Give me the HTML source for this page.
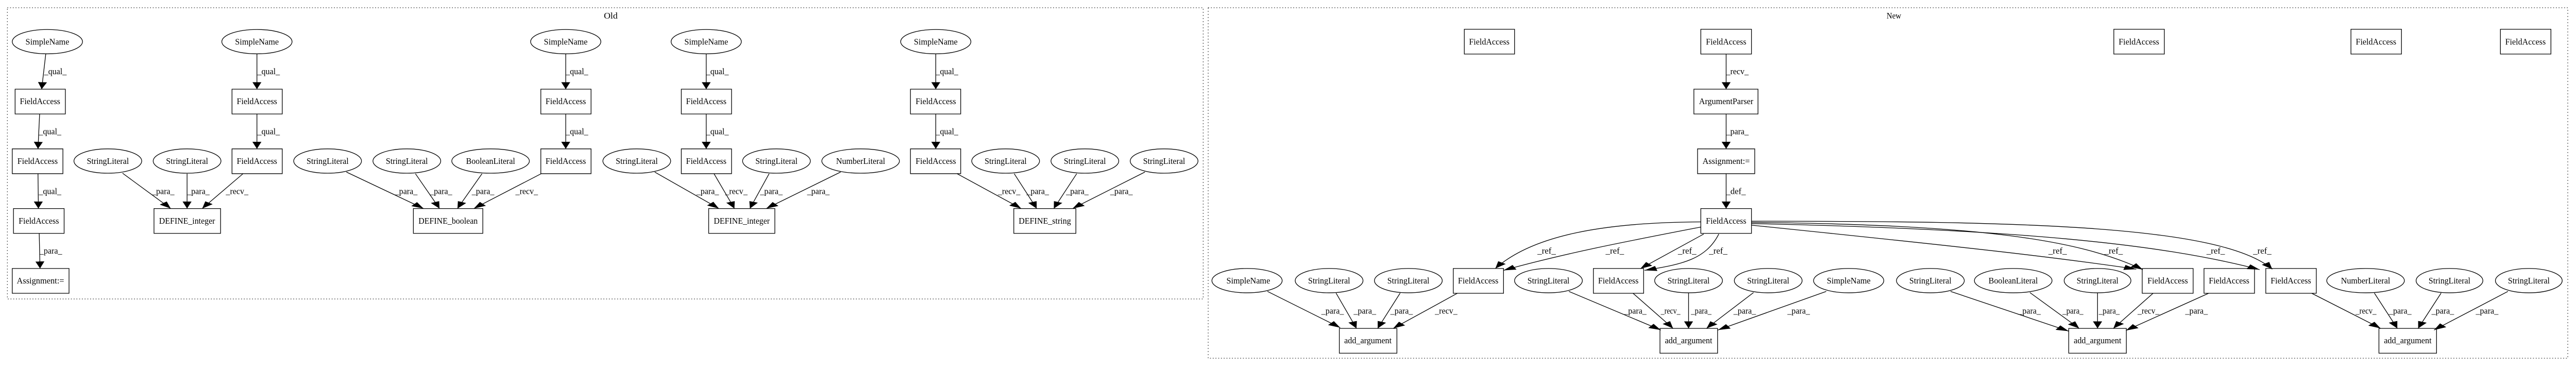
<!DOCTYPE html>
<html><head><meta charset="utf-8"><style>
html,body{margin:0;padding:0;background:#fff;width:100%;height:100%;overflow:hidden;}
svg{display:block;width:100vw;height:100vh;}
text{font-family:"Liberation Serif",serif;font-size:38px;fill:#000;}
.n{text-anchor:middle;}
.s{fill:none;stroke:#000;stroke-width:1.3;}
.e{fill:none;stroke:#000;stroke-width:1.3;marker-end:url(#ah);}
</style></head><body>
<svg viewBox="0 0 5631 712" preserveAspectRatio="none" xmlns="http://www.w3.org/2000/svg">
<defs>
<marker id="ah" markerUnits="userSpaceOnUse" markerWidth="32" markerHeight="22" refX="30" refY="11" orient="auto">
<path d="M0,0 L30,11 L0,22 z" fill="#000"/>
</marker>
</defs>
<rect x="0" y="0" width="5631" height="712" fill="#fff"/>
<rect x="16" y="15" width="2614" height="565" fill="none" stroke="#000" stroke-width="1" stroke-dasharray="2,4"/>
<rect x="2641" y="15" width="2972" height="680" fill="none" stroke="#000" stroke-width="1" stroke-dasharray="2,4"/>
<text x="1335" y="36" class="n" style="font-size:17px" textLength="30" lengthAdjust="spacingAndGlyphs">Old</text>
<text x="4140" y="36" class="n" style="font-size:17px" textLength="32" lengthAdjust="spacingAndGlyphs">New</text>

<!-- Group 1 -->
<g transform="translate(0,0) scale(0.8929,0.4541)">
<ellipse class="s" vector-effect="non-scaling-stroke" cx="116" cy="178" rx="86" ry="52"/>
<ellipse class="s" vector-effect="non-scaling-stroke" cx="629" cy="178" rx="86" ry="52"/>
<ellipse class="s" vector-effect="non-scaling-stroke" cx="1385" cy="178" rx="86" ry="52"/>
<rect class="s" vector-effect="non-scaling-stroke" x="37" y="381" width="123" height="106"/>
<rect class="s" vector-effect="non-scaling-stroke" x="30" y="636" width="124" height="106"/>
<rect class="s" vector-effect="non-scaling-stroke" x="33" y="891" width="124" height="106"/>
<rect class="s" vector-effect="non-scaling-stroke" x="30" y="1147" width="139" height="106"/>
<rect class="s" vector-effect="non-scaling-stroke" x="568" y="381" width="123" height="106"/>
<rect class="s" vector-effect="non-scaling-stroke" x="568" y="636" width="123" height="106"/>
<rect class="s" vector-effect="non-scaling-stroke" x="377" y="891" width="163" height="106"/>
<rect class="s" vector-effect="non-scaling-stroke" x="1324" y="381" width="123" height="106"/>
<rect class="s" vector-effect="non-scaling-stroke" x="1324" y="636" width="123" height="106"/>
<rect class="s" vector-effect="non-scaling-stroke" x="1012" y="891" width="170" height="106"/>
<ellipse class="s" vector-effect="non-scaling-stroke" cx="264" cy="688" rx="83" ry="52"/>
<ellipse class="s" vector-effect="non-scaling-stroke" cx="458" cy="688" rx="83" ry="52"/>
<ellipse class="s" vector-effect="non-scaling-stroke" cx="802" cy="688" rx="83" ry="52"/>
<ellipse class="s" vector-effect="non-scaling-stroke" cx="996" cy="688" rx="83" ry="52"/>
<ellipse class="s" vector-effect="non-scaling-stroke" cx="1201" cy="688" rx="95" ry="52"/>
<path class="e" vector-effect="non-scaling-stroke" d="M112,231 L102,381"/>
<path class="e" vector-effect="non-scaling-stroke" d="M97,487 L93,636"/>
<path class="e" vector-effect="non-scaling-stroke" d="M93,742 L94,891"/>
<path class="e" vector-effect="non-scaling-stroke" d="M96,997 L98,1147"/>
<path class="e" vector-effect="non-scaling-stroke" d="M629,231 L629,381"/>
<path class="e" vector-effect="non-scaling-stroke" d="M629,487 L629,636"/>
<path class="e" vector-effect="non-scaling-stroke" d="M1385,231 L1385,381"/>
<path class="e" vector-effect="non-scaling-stroke" d="M1385,487 L1385,636"/>
<path class="e" vector-effect="non-scaling-stroke" d="M300,740 L418,891"/>
<path class="e" vector-effect="non-scaling-stroke" d="M458,742 L458,891"/>
<path class="e" vector-effect="non-scaling-stroke" d="M595,742 L495,891"/>
<path class="e" vector-effect="non-scaling-stroke" d="M848,735 L1037,891"/>
<path class="e" vector-effect="non-scaling-stroke" d="M1017,742 L1076,891"/>
<path class="e" vector-effect="non-scaling-stroke" d="M1180,742 L1120,891"/>
<path class="e" vector-effect="non-scaling-stroke" d="M1325,742 L1160,891"/>
<text class="n" x="116" y="190" textLength="107" lengthAdjust="spacingAndGlyphs">SimpleName</text>
<text class="n" x="629" y="190" textLength="107" lengthAdjust="spacingAndGlyphs">SimpleName</text>
<text class="n" x="1385" y="190" textLength="107" lengthAdjust="spacingAndGlyphs">SimpleName</text>
<text class="n" x="98" y="445" textLength="99" lengthAdjust="spacingAndGlyphs">FieldAccess</text>
<text class="n" x="92" y="700" textLength="99" lengthAdjust="spacingAndGlyphs">FieldAccess</text>
<text class="n" x="95" y="956" textLength="99" lengthAdjust="spacingAndGlyphs">FieldAccess</text>
<text class="n" x="99" y="1211" textLength="116" lengthAdjust="spacingAndGlyphs">Assignment:=</text>
<text class="n" x="629" y="445" textLength="99" lengthAdjust="spacingAndGlyphs">FieldAccess</text>
<text class="n" x="629" y="700" textLength="99" lengthAdjust="spacingAndGlyphs">FieldAccess</text>
<text class="n" x="458" y="956" textLength="137" lengthAdjust="spacingAndGlyphs">DEFINE_integer</text>
<text class="n" x="1385" y="445" textLength="99" lengthAdjust="spacingAndGlyphs">FieldAccess</text>
<text class="n" x="1385" y="700" textLength="99" lengthAdjust="spacingAndGlyphs">FieldAccess</text>
<text class="n" x="1097" y="956" textLength="145" lengthAdjust="spacingAndGlyphs">DEFINE_boolean</text>
<text class="n" x="264" y="700" textLength="103" lengthAdjust="spacingAndGlyphs">StringLiteral</text>
<text class="n" x="458" y="700" textLength="103" lengthAdjust="spacingAndGlyphs">StringLiteral</text>
<text class="n" x="802" y="700" textLength="103" lengthAdjust="spacingAndGlyphs">StringLiteral</text>
<text class="n" x="996" y="700" textLength="103" lengthAdjust="spacingAndGlyphs">StringLiteral</text>
<text class="n" x="1201" y="700" textLength="120" lengthAdjust="spacingAndGlyphs">BooleanLiteral</text>
<text x="108" y="317" textLength="55" lengthAdjust="spacingAndGlyphs">_qual_</text>
<text x="95" y="574" textLength="55" lengthAdjust="spacingAndGlyphs">_qual_</text>
<text x="95" y="829" textLength="55" lengthAdjust="spacingAndGlyphs">_qual_</text>
<text x="97" y="1084" textLength="55" lengthAdjust="spacingAndGlyphs">_para_</text>
<text x="630" y="317" textLength="55" lengthAdjust="spacingAndGlyphs">_qual_</text>
<text x="630" y="574" textLength="55" lengthAdjust="spacingAndGlyphs">_qual_</text>
<text x="1385" y="317" textLength="55" lengthAdjust="spacingAndGlyphs">_qual_</text>
<text x="1385" y="574" textLength="55" lengthAdjust="spacingAndGlyphs">_qual_</text>
<text x="372" y="829" textLength="55" lengthAdjust="spacingAndGlyphs">_para_</text>
<text x="458" y="829" textLength="55" lengthAdjust="spacingAndGlyphs">_para_</text>
<text x="553" y="829" textLength="55" lengthAdjust="spacingAndGlyphs">_recv_</text>
<text x="967" y="829" textLength="55" lengthAdjust="spacingAndGlyphs">_para_</text>
<text x="1052" y="829" textLength="55" lengthAdjust="spacingAndGlyphs">_para_</text>
<text x="1155" y="829" textLength="55" lengthAdjust="spacingAndGlyphs">_para_</text>
<text x="1262" y="829" textLength="55" lengthAdjust="spacingAndGlyphs">_recv_</text>
</g>

<!-- Group 2 -->
<g transform="translate(1400,0) scale(0.8929,0.4541)">
<ellipse class="s" vector-effect="non-scaling-stroke" cx="-9" cy="688" rx="83" ry="52"/>
<ellipse class="s" vector-effect="non-scaling-stroke" cx="161" cy="178" rx="86" ry="52"/>
<ellipse class="s" vector-effect="non-scaling-stroke" cx="723" cy="178" rx="86" ry="52"/>
<rect class="s" vector-effect="non-scaling-stroke" x="100" y="381" width="123" height="106"/>
<rect class="s" vector-effect="non-scaling-stroke" x="100" y="636" width="123" height="106"/>
<rect class="s" vector-effect="non-scaling-stroke" x="661" y="381" width="123" height="106"/>
<rect class="s" vector-effect="non-scaling-stroke" x="661" y="636" width="123" height="106"/>
<ellipse class="s" vector-effect="non-scaling-stroke" cx="333" cy="688" rx="83" ry="52"/>
<ellipse class="s" vector-effect="non-scaling-stroke" cx="539" cy="688" rx="95" ry="52"/>
<ellipse class="s" vector-effect="non-scaling-stroke" cx="894" cy="688" rx="83" ry="52"/>
<ellipse class="s" vector-effect="non-scaling-stroke" cx="1088" cy="688" rx="83" ry="52"/>
<ellipse class="s" vector-effect="non-scaling-stroke" cx="1282" cy="688" rx="83" ry="52"/>
<rect class="s" vector-effect="non-scaling-stroke" x="167" y="891" width="162" height="106"/>
<rect class="s" vector-effect="non-scaling-stroke" x="914" y="891" width="152" height="106"/>
<ellipse class="s" vector-effect="non-scaling-stroke" cx="1485" cy="1199" rx="86" ry="52"/>
<path class="e" vector-effect="non-scaling-stroke" d="M161,231 L161,381"/>
<path class="e" vector-effect="non-scaling-stroke" d="M161,487 L161,636"/>
<path class="e" vector-effect="non-scaling-stroke" d="M723,231 L723,381"/>
<path class="e" vector-effect="non-scaling-stroke" d="M723,487 L723,636"/>
<path class="e" vector-effect="non-scaling-stroke" d="M35,735 L192,891"/>
<path class="e" vector-effect="non-scaling-stroke" d="M180,742 L230,891"/>
<path class="e" vector-effect="non-scaling-stroke" d="M315,742 L268,891"/>
<path class="e" vector-effect="non-scaling-stroke" d="M490,735 L308,891"/>
<path class="e" vector-effect="non-scaling-stroke" d="M775,742 L932,891"/>
<path class="e" vector-effect="non-scaling-stroke" d="M915,742 L970,891"/>
<path class="e" vector-effect="non-scaling-stroke" d="M1068,742 L1012,891"/>
<path class="e" vector-effect="non-scaling-stroke" d="M1235,735 L1058,891"/>
<path class="e" vector-effect="non-scaling-stroke" d="M1535,1245 L1713,1400"/>
<text class="n" x="-9" y="700" textLength="103" lengthAdjust="spacingAndGlyphs">StringLiteral</text>
<text class="n" x="161" y="190" textLength="107" lengthAdjust="spacingAndGlyphs">SimpleName</text>
<text class="n" x="723" y="190" textLength="107" lengthAdjust="spacingAndGlyphs">SimpleName</text>
<text class="n" x="161" y="445" textLength="99" lengthAdjust="spacingAndGlyphs">FieldAccess</text>
<text class="n" x="161" y="700" textLength="99" lengthAdjust="spacingAndGlyphs">FieldAccess</text>
<text class="n" x="723" y="445" textLength="99" lengthAdjust="spacingAndGlyphs">FieldAccess</text>
<text class="n" x="723" y="700" textLength="99" lengthAdjust="spacingAndGlyphs">FieldAccess</text>
<text class="n" x="333" y="700" textLength="103" lengthAdjust="spacingAndGlyphs">StringLiteral</text>
<text class="n" x="539" y="700" textLength="120" lengthAdjust="spacingAndGlyphs">NumberLiteral</text>
<text class="n" x="894" y="700" textLength="103" lengthAdjust="spacingAndGlyphs">StringLiteral</text>
<text class="n" x="1088" y="700" textLength="103" lengthAdjust="spacingAndGlyphs">StringLiteral</text>
<text class="n" x="1282" y="700" textLength="103" lengthAdjust="spacingAndGlyphs">StringLiteral</text>
<text class="n" x="248" y="956" textLength="137" lengthAdjust="spacingAndGlyphs">DEFINE_integer</text>
<text class="n" x="990" y="956" textLength="128" lengthAdjust="spacingAndGlyphs">DEFINE_string</text>
<text class="n" x="1488" y="1211" textLength="107" lengthAdjust="spacingAndGlyphs">SimpleName</text>
<text x="161" y="317" textLength="55" lengthAdjust="spacingAndGlyphs">_qual_</text>
<text x="161" y="574" textLength="55" lengthAdjust="spacingAndGlyphs">_qual_</text>
<text x="723" y="317" textLength="55" lengthAdjust="spacingAndGlyphs">_qual_</text>
<text x="723" y="574" textLength="55" lengthAdjust="spacingAndGlyphs">_qual_</text>
<text x="137" y="829" textLength="55" lengthAdjust="spacingAndGlyphs">_para_</text>
<text x="207" y="829" textLength="55" lengthAdjust="spacingAndGlyphs">_recv_</text>
<text x="293" y="829" textLength="55" lengthAdjust="spacingAndGlyphs">_para_</text>
<text x="408" y="829" textLength="55" lengthAdjust="spacingAndGlyphs">_para_</text>
<text x="875" y="829" textLength="55" lengthAdjust="spacingAndGlyphs">_recv_</text>
<text x="945" y="829" textLength="55" lengthAdjust="spacingAndGlyphs">_para_</text>
<text x="1042" y="829" textLength="55" lengthAdjust="spacingAndGlyphs">_para_</text>
<text x="1150" y="829" textLength="55" lengthAdjust="spacingAndGlyphs">_para_</text>
<text x="1667" y="1340" textLength="55" lengthAdjust="spacingAndGlyphs">_para_</text>
</g>

<!-- Group 3 -->
<g transform="translate(2800,0) scale(0.8929,0.4541)">
<rect class="s" vector-effect="non-scaling-stroke" x="449" y="125" width="123" height="106"/>
<rect class="s" vector-effect="non-scaling-stroke" x="1028" y="125" width="124" height="106"/>
<rect class="s" vector-effect="non-scaling-stroke" x="1011" y="381" width="157" height="106"/>
<rect class="s" vector-effect="non-scaling-stroke" x="1020" y="636" width="140" height="106"/>
<rect class="s" vector-effect="non-scaling-stroke" x="1028" y="891" width="124" height="106"/>
<ellipse class="s" vector-effect="non-scaling-stroke" cx="118" cy="1199" rx="83" ry="52"/>
<ellipse class="s" vector-effect="non-scaling-stroke" cx="312" cy="1199" rx="83" ry="52"/>
<rect class="s" vector-effect="non-scaling-stroke" x="422" y="1147" width="123" height="106"/>
<ellipse class="s" vector-effect="non-scaling-stroke" cx="655" cy="1199" rx="83" ry="52"/>
<rect class="s" vector-effect="non-scaling-stroke" x="765" y="1147" width="123" height="106"/>
<ellipse class="s" vector-effect="non-scaling-stroke" cx="998" cy="1199" rx="83" ry="52"/>
<ellipse class="s" vector-effect="non-scaling-stroke" cx="1193" cy="1199" rx="83" ry="52"/>
<ellipse class="s" vector-effect="non-scaling-stroke" cx="1390" cy="1199" rx="86" ry="52"/>
<ellipse class="s" vector-effect="non-scaling-stroke" cx="1590" cy="1199" rx="83" ry="52"/>
<rect class="s" vector-effect="non-scaling-stroke" x="143" y="1403" width="141" height="106"/>
<rect class="s" vector-effect="non-scaling-stroke" x="928" y="1403" width="141" height="106"/>
<path class="e" vector-effect="non-scaling-stroke" d="M1090,231 L1090,381"/>
<path class="e" vector-effect="non-scaling-stroke" d="M1090,487 L1090,636"/>
<path class="e" vector-effect="non-scaling-stroke" d="M1090,742 L1090,891"/>
<path class="e" vector-effect="non-scaling-stroke" d="M1028,948 C800,950 620,1000 525,1147"/>
<path class="e" vector-effect="non-scaling-stroke" d="M1028,970 C850,1030 700,1080 545,1155"/>
<path class="e" vector-effect="non-scaling-stroke" d="M1035,1000 L880,1148"/>
<path class="e" vector-effect="non-scaling-stroke" d="M1072,1000 C1040,1110 980,1130 890,1155"/>
<path class="e" vector-effect="non-scaling-stroke" d="M1152,962 C1700,1060 1900,1100 2094,1150"/>
<path class="e" vector-effect="non-scaling-stroke" d="M1152,950 C1700,960 1950,1020 2110,1152"/>
<path class="e" vector-effect="non-scaling-stroke" d="M1152,955 C1800,980 2150,1040 2396,1152"/>
<path class="e" vector-effect="non-scaling-stroke" d="M1152,945 C1800,945 2300,960 2427,1150"/>
<path class="e" vector-effect="non-scaling-stroke" d="M135,1252 L185,1403"/>
<path class="e" vector-effect="non-scaling-stroke" d="M292,1252 L237,1403"/>
<path class="e" vector-effect="non-scaling-stroke" d="M432,1253 L275,1403"/>
<path class="e" vector-effect="non-scaling-stroke" d="M705,1245 L930,1410"/>
<path class="e" vector-effect="non-scaling-stroke" d="M862,1253 L960,1403"/>
<path class="e" vector-effect="non-scaling-stroke" d="M998,1252 L998,1403"/>
<path class="e" vector-effect="non-scaling-stroke" d="M1157,1250 L1042,1403"/>
<path class="e" vector-effect="non-scaling-stroke" d="M1335,1245 L1070,1410"/>
<text class="n" x="510" y="190" textLength="99" lengthAdjust="spacingAndGlyphs">FieldAccess</text>
<text class="n" x="1090" y="190" textLength="99" lengthAdjust="spacingAndGlyphs">FieldAccess</text>
<text class="n" x="1090" y="445" textLength="133" lengthAdjust="spacingAndGlyphs">ArgumentParser</text>
<text class="n" x="1090" y="700" textLength="116" lengthAdjust="spacingAndGlyphs">Assignment:=</text>
<text class="n" x="1090" y="956" textLength="99" lengthAdjust="spacingAndGlyphs">FieldAccess</text>
<text class="n" x="118" y="1211" textLength="103" lengthAdjust="spacingAndGlyphs">StringLiteral</text>
<text class="n" x="312" y="1211" textLength="103" lengthAdjust="spacingAndGlyphs">StringLiteral</text>
<text class="n" x="483" y="1211" textLength="99" lengthAdjust="spacingAndGlyphs">FieldAccess</text>
<text class="n" x="655" y="1211" textLength="103" lengthAdjust="spacingAndGlyphs">StringLiteral</text>
<text class="n" x="826" y="1211" textLength="99" lengthAdjust="spacingAndGlyphs">FieldAccess</text>
<text class="n" x="998" y="1211" textLength="103" lengthAdjust="spacingAndGlyphs">StringLiteral</text>
<text class="n" x="1193" y="1211" textLength="103" lengthAdjust="spacingAndGlyphs">StringLiteral</text>
<text class="n" x="1390" y="1211" textLength="107" lengthAdjust="spacingAndGlyphs">SimpleName</text>
<text class="n" x="1590" y="1211" textLength="103" lengthAdjust="spacingAndGlyphs">StringLiteral</text>
<text class="n" x="213" y="1467" textLength="116" lengthAdjust="spacingAndGlyphs">add_argument</text>
<text class="n" x="998" y="1467" textLength="116" lengthAdjust="spacingAndGlyphs">add_argument</text>
<text x="1090" y="317" textLength="55" lengthAdjust="spacingAndGlyphs">_recv_</text>
<text x="1090" y="574" textLength="55" lengthAdjust="spacingAndGlyphs">_para_</text>
<text x="1090" y="829" textLength="48" lengthAdjust="spacingAndGlyphs">_def_</text>
<text x="628" y="1084" textLength="45" lengthAdjust="spacingAndGlyphs">_ref_</text>
<text x="795" y="1084" textLength="45" lengthAdjust="spacingAndGlyphs">_ref_</text>
<text x="972" y="1084" textLength="45" lengthAdjust="spacingAndGlyphs">_ref_</text>
<text x="1048" y="1084" textLength="45" lengthAdjust="spacingAndGlyphs">_ref_</text>
<text x="1879" y="1084" textLength="45" lengthAdjust="spacingAndGlyphs">_ref_</text>
<text x="2016" y="1084" textLength="45" lengthAdjust="spacingAndGlyphs">_ref_</text>
<text x="2266" y="1084" textLength="45" lengthAdjust="spacingAndGlyphs">_ref_</text>
<text x="2380" y="1084" textLength="45" lengthAdjust="spacingAndGlyphs">_ref_</text>
<text x="178" y="1340" textLength="55" lengthAdjust="spacingAndGlyphs">_para_</text>
<text x="268" y="1340" textLength="55" lengthAdjust="spacingAndGlyphs">_para_</text>
<text x="377" y="1340" textLength="55" lengthAdjust="spacingAndGlyphs">_recv_</text>
<text x="840" y="1340" textLength="55" lengthAdjust="spacingAndGlyphs">_para_</text>
<text x="930" y="1340" textLength="48" lengthAdjust="spacingAndGlyphs">_recv_</text>
<text x="1004" y="1340" textLength="50" lengthAdjust="spacingAndGlyphs">_para_</text>
<text x="1108" y="1340" textLength="55" lengthAdjust="spacingAndGlyphs">_para_</text>
<text x="1240" y="1340" textLength="55" lengthAdjust="spacingAndGlyphs">_para_</text>
</g>

<!-- Group 4 -->
<g transform="translate(4200,0) scale(0.9126,0.4541)">
<rect class="s" vector-effect="non-scaling-stroke" x="461" y="125" width="121" height="106"/>
<rect class="s" vector-effect="non-scaling-stroke" x="1029" y="125" width="121" height="106"/>
<rect class="s" vector-effect="non-scaling-stroke" x="1387" y="125" width="121" height="106"/>
<ellipse class="s" vector-effect="non-scaling-stroke" cx="220" cy="1199" rx="93" ry="52"/>
<ellipse class="s" vector-effect="non-scaling-stroke" cx="422" cy="1199" rx="80" ry="52"/>
<rect class="s" vector-effect="non-scaling-stroke" x="529" y="1147" width="122" height="106"/>
<rect class="s" vector-effect="non-scaling-stroke" x="677" y="1147" width="121" height="106"/>
<rect class="s" vector-effect="non-scaling-stroke" x="825" y="1147" width="121" height="106"/>
<ellipse class="s" vector-effect="non-scaling-stroke" cx="1064" cy="1199" rx="93" ry="52"/>
<ellipse class="s" vector-effect="non-scaling-stroke" cx="1265" cy="1199" rx="80" ry="52"/>
<ellipse class="s" vector-effect="non-scaling-stroke" cx="1455" cy="1199" rx="80" ry="52"/>
<rect class="s" vector-effect="non-scaling-stroke" x="353" y="1403" width="138" height="106"/>
<rect class="s" vector-effect="non-scaling-stroke" x="1096" y="1403" width="138" height="106"/>
<path class="e" vector-effect="non-scaling-stroke" d="M70,1245 L353,1415"/>
<path class="e" vector-effect="non-scaling-stroke" d="M260,1250 L378,1403"/>
<path class="e" vector-effect="non-scaling-stroke" d="M422,1252 L422,1403"/>
<path class="e" vector-effect="non-scaling-stroke" d="M555,1253 L460,1403"/>
<path class="e" vector-effect="non-scaling-stroke" d="M688,1253 L490,1412"/>
<path class="e" vector-effect="non-scaling-stroke" d="M935,1253 L1100,1403"/>
<path class="e" vector-effect="non-scaling-stroke" d="M1085,1252 L1140,1403"/>
<path class="e" vector-effect="non-scaling-stroke" d="M1245,1252 L1190,1403"/>
<path class="e" vector-effect="non-scaling-stroke" d="M1405,1245 L1228,1410"/>
<text class="n" x="521" y="190" textLength="97" lengthAdjust="spacingAndGlyphs">FieldAccess</text>
<text class="n" x="1089" y="190" textLength="97" lengthAdjust="spacingAndGlyphs">FieldAccess</text>
<text class="n" x="1447" y="190" textLength="97" lengthAdjust="spacingAndGlyphs">FieldAccess</text>
<text class="n" x="220" y="1211" textLength="118" lengthAdjust="spacingAndGlyphs">BooleanLiteral</text>
<text class="n" x="422" y="1211" textLength="100" lengthAdjust="spacingAndGlyphs">StringLiteral</text>
<text class="n" x="590" y="1211" textLength="97" lengthAdjust="spacingAndGlyphs">FieldAccess</text>
<text class="n" x="737" y="1211" textLength="97" lengthAdjust="spacingAndGlyphs">FieldAccess</text>
<text class="n" x="885" y="1211" textLength="97" lengthAdjust="spacingAndGlyphs">FieldAccess</text>
<text class="n" x="1064" y="1211" textLength="118" lengthAdjust="spacingAndGlyphs">NumberLiteral</text>
<text class="n" x="1265" y="1211" textLength="100" lengthAdjust="spacingAndGlyphs">StringLiteral</text>
<text class="n" x="1455" y="1211" textLength="100" lengthAdjust="spacingAndGlyphs">StringLiteral</text>
<text class="n" x="422" y="1467" textLength="114" lengthAdjust="spacingAndGlyphs">add_argument</text>
<text class="n" x="1165" y="1467" textLength="114" lengthAdjust="spacingAndGlyphs">add_argument</text>
<text x="232" y="1340" textLength="54" lengthAdjust="spacingAndGlyphs">_para_</text>
<text x="338" y="1340" textLength="50" lengthAdjust="spacingAndGlyphs">_para_</text>
<text x="425" y="1340" textLength="50" lengthAdjust="spacingAndGlyphs">_para_</text>
<text x="518" y="1340" textLength="52" lengthAdjust="spacingAndGlyphs">_recv_</text>
<text x="632" y="1340" textLength="54" lengthAdjust="spacingAndGlyphs">_para_</text>
<text x="1040" y="1340" textLength="50" lengthAdjust="spacingAndGlyphs">_recv_</text>
<text x="1120" y="1340" textLength="54" lengthAdjust="spacingAndGlyphs">_para_</text>
<text x="1222" y="1340" textLength="54" lengthAdjust="spacingAndGlyphs">_para_</text>
<text x="1328" y="1340" textLength="54" lengthAdjust="spacingAndGlyphs">_para_</text>
</g>
</svg>
</body></html>
